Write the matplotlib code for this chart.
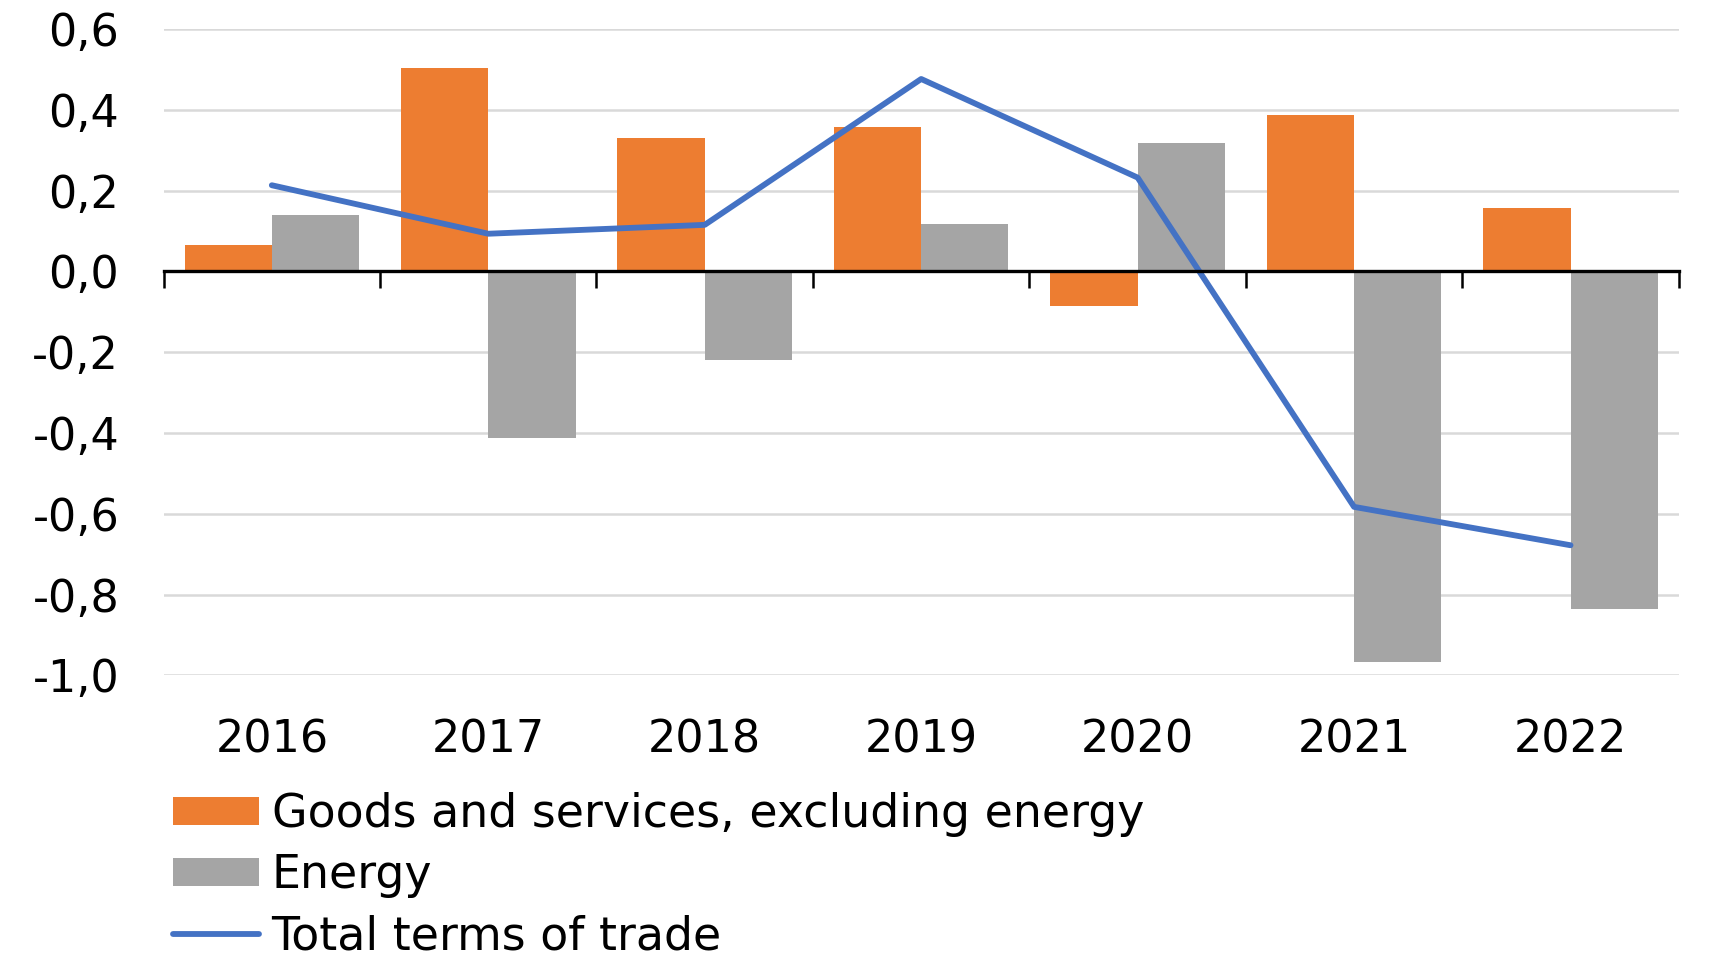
import matplotlib
matplotlib.use("Agg")
import matplotlib.pyplot as plt
import numpy as np
from matplotlib.ticker import FixedLocator, FuncFormatter

years = ["2016", "2017", "2018", "2019", "2020", "2021", "2022"]
goods = [0.066, 0.503, 0.331, 0.356, -0.085, 0.388, 0.156]
energy = [0.139, -0.413, -0.219, 0.118, 0.317, -0.968, -0.837]
total = [0.213, 0.093, 0.115, 0.476, 0.232, -0.583, -0.678]

labels = ["Goods and services, excluding energy", "Energy", "Total terms of trade"]
c_orange = "#ED7D31"
c_gray = "#A5A5A5"
c_blue = "#4472C4"

plt.rcParams['font.family'] = ['DejaVu Sans']
FS = 32


def fmt(v, p):
    if abs(v) < 1e-9:
        v = 0.0
    return f"{v:.1f}".replace('.', ',')


fig = plt.figure(figsize=(17.33, 9.63), dpi=100)
ax = fig.add_axes([0.0944, 0.2987, 0.9687 - 0.0944, 0.970 - 0.2987])

x = np.arange(len(years))
bw = 0.403
b1 = ax.bar(x - bw / 2, goods, width=bw, color=c_orange, zorder=2, label=labels[0])
b2 = ax.bar(x + bw / 2, energy, width=bw, color=c_gray, zorder=2, label=labels[1])
l1, = ax.plot(x, total, color=c_blue, lw=4.2, zorder=3, label=labels[2],
              solid_joinstyle='round', solid_capstyle='round')

ax.set_xlim(-0.5, len(years) - 0.5)
ax.set_ylim(-1.0, 0.6)
ax.set_yticks(np.arange(-1.0, 0.61, 0.2))
ax.yaxis.set_major_formatter(FuncFormatter(fmt))
ax.grid(axis='y', color='#D9D9D9', lw=1.8, zorder=0)
ax.set_axisbelow(True)

for s in ['left', 'right', 'bottom']:
    ax.spines[s].set_visible(False)
ax.spines['top'].set_position(('data', 0))
ax.spines['top'].set_linewidth(2.4)
ax.spines['top'].set_zorder(4)

ax.set_xticks(x)
ax.set_xticklabels(years)
ax.xaxis.set_minor_locator(FixedLocator(np.arange(-0.5, len(years), 1.0)))
ax.tick_params(axis='x', which='major', length=0, pad=31, labelsize=FS, bottom=True, top=False)
ax.tick_params(axis='x', which='minor', top=True, bottom=False, direction='in', length=12, width=1.8)
ax.tick_params(axis='y', length=0, pad=32, labelsize=FS)

leg = fig.legend(handles=[b1, b2, l1], labels=labels, loc='upper left',
                 bbox_to_anchor=(173.5 / 1733, 1 - 792 / 963), frameon=False,
                 fontsize=33, handlelength=1.87, handleheight=0.58, handletextpad=0.27,
                 labelspacing=0.35, borderpad=0, borderaxespad=0)

fig.savefig("out.png", dpi=100)
